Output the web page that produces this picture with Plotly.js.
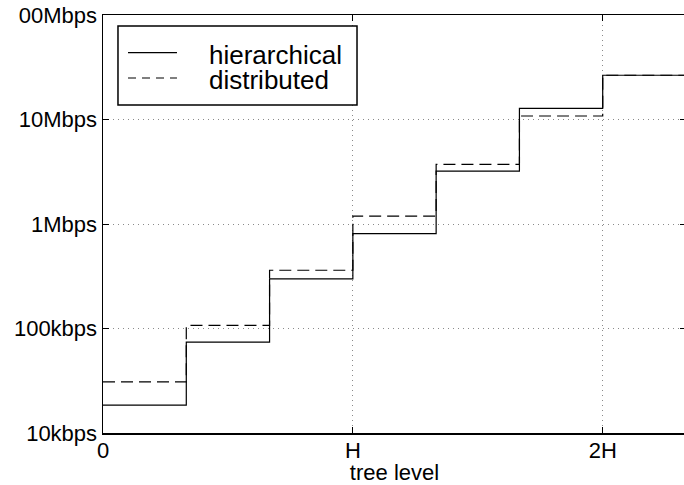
<!DOCTYPE html>
<html>
<head>
<meta charset="utf-8">
<script src="https://cdn.plot.ly/plotly-3.0.1.min.js"></script>
<style>
html,body{margin:0;padding:0;overflow:hidden;background:#fff;}
#chart{width:690px;height:485px;}
</style>
</head>
<body>
<div id="chart"></div>
<script>
// tree level in units of H (step boundaries every H/3)
var levels = [0, 1/3, 2/3, 1, 4/3, 5/3, 2, 7/3];
// bandwidth in bps per step (last value repeated to close the final step)
var hierarchical = [18.5e3, 74e3, 298e3, 0.81e6, 3.2e6, 12.8e6, 26.5e6, 26.5e6];
var distributed  = [30.8e3, 107e3, 361e3, 1.19e6, 3.72e6, 10.8e6, 26.5e6, 26.5e6];
var seriesNames = ['hierarchical', 'distributed'];
var xTickVals = [0, 1, 2];
var xTickText = ['0', 'H', '2H'];
var yTickVals = [1e4, 1e5, 1e6, 1e7, 1e8];
var yTickText = ['10kbps', '100kbps', '1Mbps', '10Mbps', '00Mbps'];
var xTitle = 'tree level';

var FONT = 'Liberation Sans, Arial, Helvetica, sans-serif';

var traces = [
  {x: levels, y: hierarchical, name: seriesNames[0], mode: 'lines',
   line: {shape: 'hv', color: '#000', width: 1.2}},
  {x: levels, y: distributed, name: seriesNames[1], mode: 'lines',
   line: {shape: 'hv', color: '#000', width: 1.2, dash: '12px,6px'}}
];

// legend geometry (paper coordinates)
var lx0 = 0.0257, lx1 = 0.4357, ly0 = 0.7847, ly1 = 0.9737;
var sx0 = 0.0429, sx1 = 0.1269, sy = [0.9098, 0.8493], ty = [0.9045, 0.8440], tx = 0.1784;

var shapes = [
  {type: 'rect', xref: 'paper', yref: 'paper', x0: lx0, x1: lx1, y0: ly0, y1: ly1,
   fillcolor: '#fff', line: {color: '#000', width: 1.5}, layer: 'above'},
  {type: 'line', xref: 'paper', yref: 'paper', x0: sx0, x1: sx1, y0: sy[0], y1: sy[0],
   line: {color: '#000', width: 1.2}, layer: 'above'},
  {type: 'line', xref: 'paper', yref: 'paper', x0: sx0, x1: sx1, y0: sy[1], y1: sy[1],
   line: {color: '#000', width: 1.2, dash: '8px,6px'}, layer: 'above'}
];
var annotations = seriesNames.map(function(n, i){
  return {xref: 'paper', yref: 'paper', x: tx, y: ty[i], xanchor: 'left', yanchor: 'middle',
          height: 24, valign: 'middle',
          text: n, showarrow: false, font: {family: FONT, size: 26, color: '#000'}};
});

var layout = {
  width: 690, height: 485,
  margin: {l: 103, r: 4, t: 15, b: 52},
  paper_bgcolor: '#fff', plot_bgcolor: '#fff',
  showlegend: false,
  font: {family: FONT, size: 22, color: '#000'},
  xaxis: {
    range: [0, 7/3], tickvals: xTickVals, ticktext: xTickText,
    showline: true, linecolor: '#000', linewidth: 1.5, mirror: 'ticks',
    ticks: 'inside', ticklen: 6, tickcolor: '#000', tickwidth: 1,
    ticklabelstandoff: -3,
    showgrid: true, gridcolor: '#8a8a8a', gridwidth: 1, griddash: '1px,4px',
    zeroline: false, automargin: false,
    title: {text: xTitle, font: {family: FONT, size: 22}},
    tickfont: {family: FONT, size: 22}
  },
  yaxis: {
    type: 'log', range: [4, 8], tickvals: yTickVals, ticktext: yTickText,
    showline: true, linecolor: '#000', linewidth: 1.5, mirror: 'ticks',
    ticks: 'inside', ticklen: 6, tickcolor: '#000', tickwidth: 1,
    showgrid: true, gridcolor: '#8a8a8a', gridwidth: 1, griddash: '1px,4px',
    zeroline: false, automargin: false,
    tickfont: {family: FONT, size: 22}
  },
  shapes: shapes,
  annotations: annotations
};

Plotly.newPlot('chart', traces, layout, {displayModeBar: false, staticPlot: true});
</script>
</body>
</html>
